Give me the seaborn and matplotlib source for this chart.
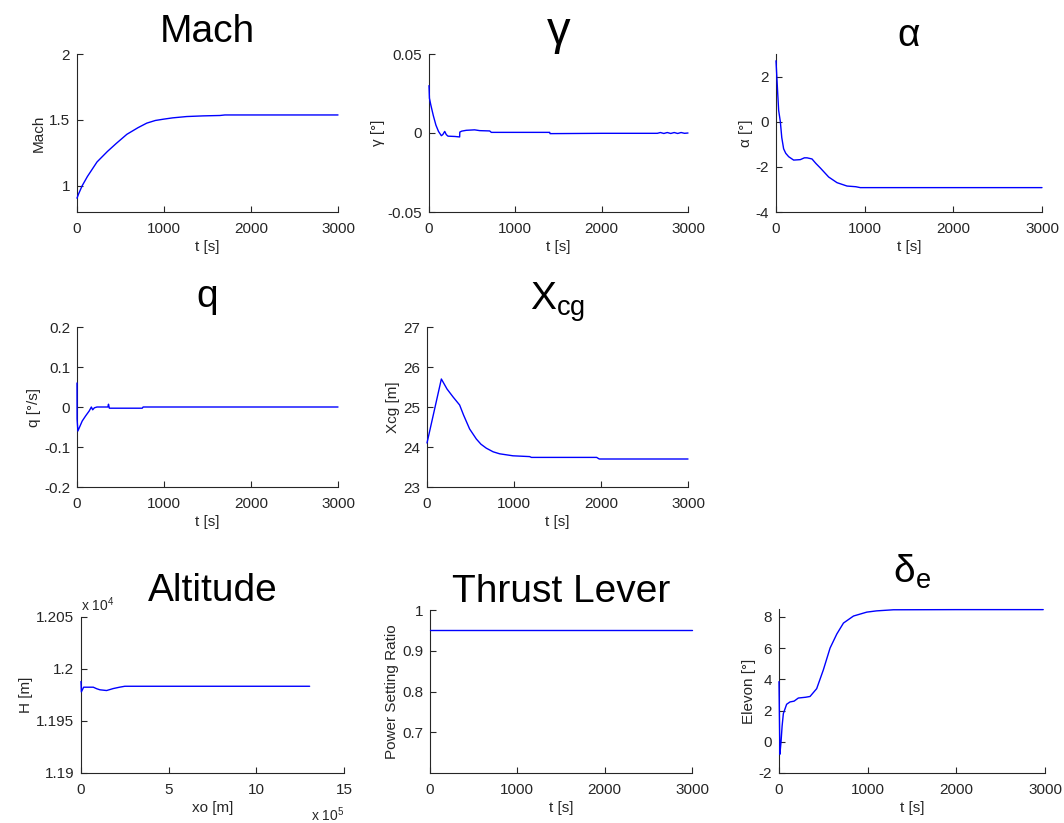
import numpy as np
import matplotlib
matplotlib.use('Agg')
import matplotlib.pyplot as plt
from matplotlib.ticker import FuncFormatter
import seaborn as sns

# values
t_mach = [0, 20, 60, 120, 230, 350, 450, 573, 700, 802, 900, 994, 1100, 1261, 1450, 1643, 1700, 2000, 2500, 3000]
mach = [0.905, 0.94, 1.0, 1.07, 1.18, 1.26, 1.32, 1.39, 1.44, 1.475, 1.495, 1.505, 1.515, 1.525, 1.53, 1.533, 1.537, 1.537, 1.537, 1.537]

t_gamma = [0, 5, 20, 50, 80, 110, 143, 160, 182, 200, 220, 300, 355, 357, 380, 432, 528, 587, 703, 722, 1000, 1398, 1402, 2000, 2645,
           2680, 2720, 2760, 2800, 2840, 2880, 2920, 2960, 3000]
gamma = [0.030, 0.022, 0.018, 0.011, 0.005, 0.001, -0.0017, -0.001, 0.001, -0.001, -0.002, -0.0022, -0.0025, 0.0006, 0.0012, 0.0017,
         0.002, 0.0015, 0.0013, 0.0004, 0.0004, 0.0004, -0.0004, -0.0002, -0.0002,
         0.0003, -0.0003, 0.0003, -0.0003, 0.0003, -0.0003, 0.0003, -0.0002, 0.0]

t_alpha = [0, 8, 20, 30, 49, 65, 86, 110, 143, 199, 274, 320, 350, 406, 450, 500, 594, 688, 801, 900, 951, 1500, 3000]
alpha = [2.7, 2.1, 1.2, 0.5, 0.0, -0.7, -1.2, -1.4, -1.55, -1.7, -1.68, -1.6, -1.6, -1.65, -1.85, -2.05, -2.45, -2.7, -2.85, -2.88,
         -2.92, -2.92, -2.92]

t_q = [0, 1, 10, 30, 60, 100, 140, 165, 180, 200, 230, 300, 355, 362, 372, 385, 750, 760, 3000]
q = [0.06, -0.03, -0.06, -0.05, -0.035, -0.022, -0.01, 0.0, -0.007, -0.002, 0.0, 0.0, 0.0, 0.007, -0.003, -0.003, -0.003, 0.0, 0.0]

t_xcg = [0, 165, 230, 300, 375, 420, 460, 490, 567, 620, 682, 760, 835, 988, 1180, 1200, 1950, 1980, 3000]
xcg = [24.1, 25.7, 25.45, 25.25, 25.05, 24.8, 24.6, 24.45, 24.2, 24.07, 23.97, 23.88, 23.83, 23.78, 23.76, 23.74, 23.74, 23.7, 23.7]

xo = [0, 2000, 15000, 70000, 90000, 108000, 146000, 184000, 220000, 250000, 1304000]
alt = [11988, 11978, 11982.5, 11982.5, 11981, 11980, 11979.3, 11981.2, 11982.5, 11983.4, 11983.4]

t_thr = [0, 3000]
thrust = [0.95, 0.95]

t_elev = [0, 10, 23, 35, 49, 86, 124, 170, 218, 300, 350, 425, 500, 576, 652, 727, 840, 990, 1100, 1290, 2000, 2980]
elevon = [3.85, -0.8, 0.0, 1.0, 1.8, 2.4, 2.55, 2.6, 2.8, 2.85, 2.9, 3.4, 4.6, 6.0, 6.9, 7.6, 8.05, 8.3, 8.38, 8.45, 8.46, 8.46]

sns.set_style('ticks')
plt.rcParams['font.family'] = ['Liberation Sans', 'DejaVu Sans']
plt.rcParams['mathtext.fontset'] = 'custom'
plt.rcParams['mathtext.rm'] = 'Liberation Sans'
plt.rcParams['mathtext.it'] = 'Liberation Sans'

W, H = 1064, 823
fig = plt.figure(figsize=(W / 100, H / 100), dpi=100)


def make_ax(x0, x1, y0, y1):
    return fig.add_axes([x0 / W, 1 - y1 / H, (x1 - x0) / W, (y1 - y0) / H])


panels = [
    # x data, y data, box(px), title, title pad(px), ylabel, xlabel, ylim, yticks
    (t_mach, mach, (77, 338, 54, 212), 'Mach', 12, 'Mach', 't [s]', (0.8, 2), [1, 1.5, 2]),
    (t_gamma, gamma, (429, 688, 54, 212), 'γ', 6, 'γ [°]', 't [s]', (-0.05, 0.05), [-0.05, 0, 0.05]),
    (t_alpha, alpha, (776, 1042, 54, 212), 'α', 7, 'α [°]', 't [s]', (-4, 3), [-4, -2, 0, 2]),
    (t_q, q, (77, 338, 327, 487), 'q', 20, 'q [°/s]', 't [s]', (-0.2, 0.2), [-0.2, -0.1, 0, 0.1, 0.2]),
    (t_xcg, xcg, (427, 688, 327, 487), r'$\mathregular{X_{cg}}$', 17, 'Xcg [m]', 't [s]', (23, 27), [23, 24, 25, 26, 27]),
    (xo, alt, (81, 344, 617, 773), 'Altitude', 16, 'H [m]', 'xo [m]', (11900, 12050), [11900, 11950, 12000, 12050]),
    (t_thr, thrust, (430, 692, 610, 773), 'Thrust Lever', 7, 'Power Setting Ratio', 't [s]', (0.6, 1.0), [0.7, 0.8, 0.9, 1]),
    (t_elev, elevon, (779, 1045, 609, 773), r'$\mathregular{\delta_e}$', 26, 'Elevon [°]', 't [s]', (-2, 8.5), [-2, 0, 2, 4, 6, 8]),
]

for xs, ys, box, title, pad, ylab, xlab, ylim, yticks in panels:
    ax = make_ax(*box)
    sns.lineplot(x=xs, y=ys, ax=ax, color='blue', lw=1, estimator=None, sort=False, zorder=3)
    for ln in ax.lines:
        ln.set_clip_on(False)
    ax.set_title(title, fontsize=34 if title == 'γ' else 28, pad=pad * 0.72, color='black')
    ax.set_ylabel(ylab, fontsize=11, labelpad=2)
    ax.set_xlabel(xlab, fontsize=11, labelpad=3)
    ax.set_ylim(*ylim)
    ax.set_yticks(yticks)
    ax.tick_params(direction='in', length=4, labelsize=11, colors='#262626')
    ax.tick_params(axis='x', pad=7)
    ax.tick_params(axis='y', pad=5)
    sns.despine(ax=ax)
    if xlab == 'xo [m]':
        ax.set_xlim(0, 1.5e6)
        ax.set_xticks([0, 5e5, 10e5, 15e5])
        ax.xaxis.set_major_formatter(FuncFormatter(lambda v, p: f'{v / 1e5:g}'))
        ax.yaxis.set_major_formatter(FuncFormatter(lambda v, p: f'{v / 1e4:g}'))
        ax.text(0.0, 1.02, r'x 10$^{4}$', transform=ax.transAxes, fontsize=10, ha='left', va='bottom')
        ax.text(1.0, -0.27, r'x 10$^{5}$', transform=ax.transAxes, fontsize=10, ha='right', va='center')
    else:
        ax.set_xlim(0, 3000)
        ax.set_xticks([0, 1000, 2000, 3000])
        ax.yaxis.set_major_formatter(FuncFormatter(lambda v, p: f'{v:g}'))

fig.savefig('out.png', dpi=100)
